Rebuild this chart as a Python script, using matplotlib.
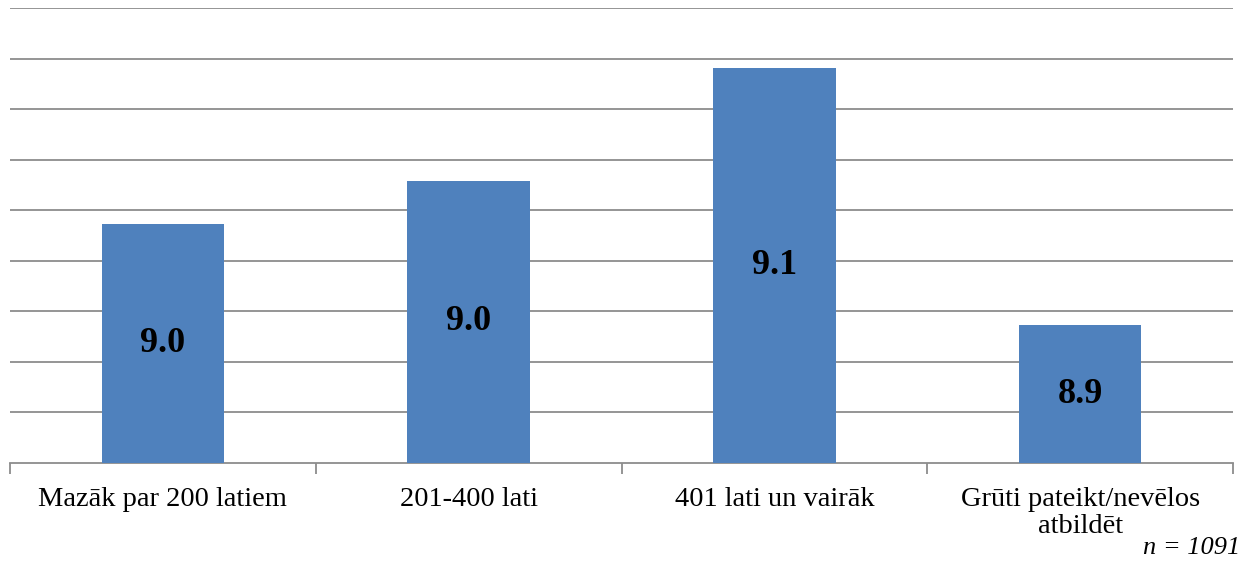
import matplotlib
matplotlib.use("Agg")
import matplotlib.pyplot as plt
import numpy as np

categories = ["Mazāk par 200 latiem", "201-400 lati", "401 lati un vairāk", "Grūti pateikt/nevēlos\natbildēt"]
values = [8.986, 9.029, 9.141, 8.886]
labels = ["9.0", "9.0", "9.1", "8.9"]
note = "n = 1091"

plt.rcParams['font.family'] = ['Liberation Serif', 'DejaVu Serif']

fig = plt.figure(figsize=(12.46, 5.61), dpi=100)
ax = fig.add_axes([10/1246, 1-463/561, (1233-10)/1246, (463-8)/561])

ymin, ymax = 8.75, 9.2
x = np.arange(len(categories))
ax.bar(x, np.array(values) - ymin, bottom=ymin, width=0.4, color="#4F81BD", zorder=3)
ax.set_ylim(ymin, ymax)
ax.set_xlim(-0.5, len(categories) - 0.5)
ax.set_yticks(np.arange(ymin + 0.05, ymax + 0.001, 0.05))
ax.yaxis.grid(True, color="#8C8C8C", linewidth=1.3, zorder=0)
ax.tick_params(axis='y', left=False, labelleft=False)
for s in ["top", "right", "left"]:
    ax.spines[s].set_visible(False)
ax.spines["bottom"].set_color("#8C8C8C")
ax.spines["bottom"].set_linewidth(1.3)

ax.set_xticks(x)
ax.set_xticklabels(categories, fontsize=20.5, linespacing=1.1)
ax.tick_params(axis='x', which='major', length=0, pad=17)
ax.set_xticks(np.arange(-0.5, len(categories)), minor=True)
ax.tick_params(axis='x', which='minor', length=8, color="#8C8C8C", width=1.3)

for xi, v, lab in zip(x, values, labels):
    ax.text(xi, (ymin + v) / 2, lab, ha='center', va='center', fontsize=26, fontweight='bold', zorder=4)

fig.text(1240/1246, 2/561, note, ha='right', va='bottom', fontsize=19, style='italic')

fig.savefig("out.png", dpi=100)
